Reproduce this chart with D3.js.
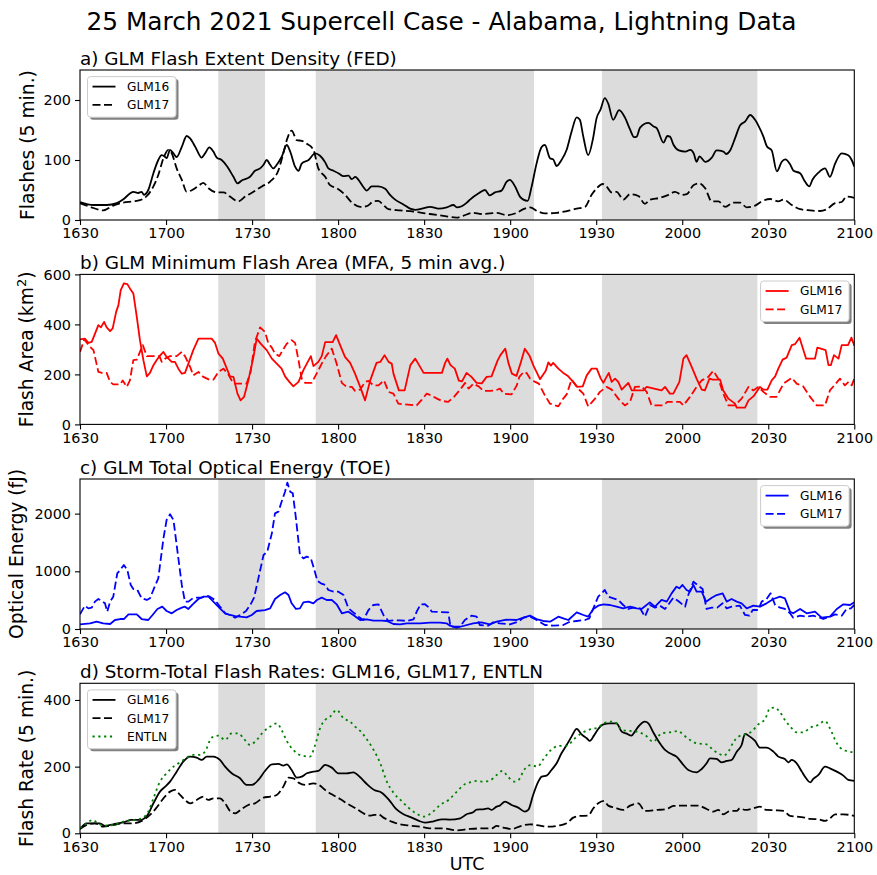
<!DOCTYPE html>
<html><head><meta charset="utf-8">
<script src="https://cdn.jsdelivr.net/npm/d3@7"></script>
<style>body{margin:0;background:#fff}</style>
</head><body>
<svg id="chart" width="877" height="875"></svg>
<script>
// ---------------- DATA (time = minutes after 16:30 UTC) ----------------
const suptitle = "25 March 2021 Supercell Case - Alabama, Lightning Data";
const xTickMinutes = [0,30,60,90,120,150,180,210,240,270];
const xTickLabels = ["1630","1700","1730","1800","1830","1900","1930","2000","2030","2100"];
const shadeSpans = [[48.2,64.5],[82.2,158.3],[182,236.2]];

// a) Flash Extent Density
const fedG16 = [[0,30],[4.7,25],[9.3,25],[12.8,28],[15,34],[17.4,44],[18.6,47],[20.3,45],[21.5,47],[22.3,42],[23.8,50],[25.6,78],[27.3,100],[28.5,108],[29.7,105],[30.2,103],[31.4,117],[32.6,111],[33.7,105],[35.5,122],[37.2,140],[38.4,136],[39.5,128],[40.7,117],[42.4,104],[43.6,111],[45.1,121],[46.5,114],[47.7,104],[49.4,100],[51.2,90],[53.5,72],[54.9,61],[56.4,66],[59.3,72],[61,82],[62.8,86],[64,92],[65.1,100],[66.3,92],[67.4,86],[68.6,92],[70.3,105],[72.1,125],[73.3,114],[75,89],[76.2,82],[77.3,94],[79.7,100],[82,111],[83.7,107],[85.5,96],[86.6,86],[88.4,82],[90.1,78],[91.9,73],[93.6,74],[94.8,68],[96,72],[97.1,67],[98.8,55],[100,49],[101.7,56],[104,56],[106.4,52],[108.1,42],[109.9,34],[112.8,26],[115.1,19],[117,17],[119.2,19],[122.1,22],[125,19],[127.9,21],[130.2,25],[131.4,21],[133.1,23],[134.9,29],[136,34],[138.9,44],[141.2,50],[142.9,41],[144.7,46],[147,49],[148.8,64],[149.9,67],[151.7,56],[153.4,39],[154.6,34],[156.1,32],[157.5,56],[159.2,94],[161,122],[162.1,125],[163.9,103],[165,101],[166.2,90],[167.9,100],[169.7,117],[171.4,147],[173.2,171],[174.3,167],[175.5,139],[177.2,108],[178.9,136],[180.1,169],[181.5,184],[183,203],[184.2,194],[185.9,167],[188,183],[190,171],[191.8,151],[193.2,138],[194.1,139],[195.3,154],[198.2,162],[200,156],[201.1,153],[203.5,129],[204.8,140],[205.7,139],[207,125],[208.8,116],[211.1,114],[212.8,117],[214,111],[215,97],[216,106],[218,97],[220.3,104],[222,116],[224.4,114],[225.3,110],[226.7,116],[228.4,136],[230.2,158],[231.9,164],[233.7,175],[235.4,167],[236.6,157],[238.3,139],[239.5,123],[241.2,116],[243,81],[244.7,97],[245.9,101],[247.6,93],[248.8,82],[251.1,78],[252.8,64],[254.3,56],[255.4,67],[257.5,79],[259.8,86],[261.5,72],[263.3,94],[265.6,111],[267.9,108],[269.1,100],[270,89]];
const fedG17 = [[0,28],[3.5,22],[8.1,16],[11.6,24],[15.1,29],[18.6,31],[20.9,33],[23.3,40],[25.6,56],[27.3,75],[29.1,103],[30.8,117],[32,111],[33.7,86],[35.5,67],[37.2,47],[39.5,51],[41.6,58],[43,62],[44.8,53],[47.7,46],[50,46],[52.3,39],[55.2,31],[57.6,39],[60.5,47],[63.4,56],[66.3,64],[69.2,83],[70.9,111],[72.3,136],[73.8,149],[75.6,133],[77.3,132],[79.1,127],[81.4,117],[83.1,86],[85.5,72],[87.2,58],[89.5,53],[92.4,42],[94.8,29],[97.7,22],[100,23],[102.3,31],[104,32],[105.8,25],[107.6,18],[111.6,16],[116.3,14],[119.2,12],[122,10],[126.7,7],[131.3,4],[133.6,7],[137.1,12],[140,10],[142.9,11],[145.3,12],[148.8,8],[152.3,12],[154.6,18],[156.9,21],[159.8,14],[162.1,11],[166.2,12],[170.8,16],[173.2,19],[176.1,22],[178.4,42],[180.2,53],[182.3,60],[183.6,56],[185.4,46],[187.1,47],[189.5,34],[191.8,43],[194.7,40],[197,27],[198.8,34],[202.3,37],[205.2,42],[207.5,47],[209.8,42],[211.6,43],[213.9,58],[216,61],[218,53],[220.3,31],[222.6,31],[225,22],[227.8,29],[230.2,29],[232.5,21],[235.4,24],[237.7,31],[240.7,35],[243.5,31],[245.3,34],[248.2,25],[251.1,18],[254.6,16],[258.1,15],[260.4,18],[263.3,28],[265.6,30],[267.3,39],[270,37]];

// b) Minimum Flash Area
const mfaG16 = [[0,340],[1.7,343],[2.9,326],[4.1,330],[6.4,397],[7.3,388],[8.4,410],[9.3,388],[10.5,373],[11.4,384],[12.6,450],[13.4,477],[14.2,537],[15.3,564],[16.5,561],[17.4,544],[18.6,524],[19.8,430],[20.9,337],[22.1,257],[23.3,192],[24.4,206],[25.6,237],[26.7,257],[27.7,273],[29.1,290],[30.2,270],[32,250],[33.1,250],[34.3,223],[35.5,203],[36.6,206],[37.8,243],[39.5,297],[41.3,343],[43,343],[45.9,343],[47.1,326],[48.3,283],[49.8,263],[51.2,223],[52.3,192],[53.5,190],[54.9,123],[56,96],[57.2,110],[58.7,176],[60.5,270],[61.6,343],[63,323],[65.1,297],[66.9,263],[68.6,243],[70.3,223],[71.5,192],[73,170],[74.4,152],[76.2,170],[77.9,217],[79.1,243],[80.5,273],[81.4,233],[83.1,250],[84.3,273],[85.5,329],[88.1,329],[89.3,357],[90.7,317],[92.4,270],[94.2,246],[95.9,203],[97.7,150],[99.4,96],[101.2,176],[103.4,246],[104.7,250],[106.2,277],[107.6,250],[108.7,243],[109.3,203],[111.2,136],[113.2,136],[115.2,237],[116.9,263],[118.6,230],[119.8,206],[126.2,206],[127.3,245],[128.1,263],[129.2,237],[130.7,223],[132.1,175],[133.2,172],[134.8,206],[136.5,190],[138.3,166],[140.1,164],[141.8,190],[143.5,192],[145.6,255],[146.6,277],[148.3,303],[149.4,245],[150.6,203],[152.2,194],[153.5,240],[155.1,303],[156.7,276],[158.2,233],[160.4,181],[162.4,215],[163.3,248],[164.2,235],[165,246],[166.8,223],[168.5,206],[169.9,196],[172,170],[173.4,150],[175.3,152],[176.7,196],[178.4,223],[180.2,223],[181.6,183],[182.5,166],[183.6,190],[184.4,206],[185.4,170],[186.6,183],[187.7,170],[188.9,139],[190,152],[191.2,166],[192.4,136],[196.4,136],[197.6,150],[202.8,136],[204,150],[205.7,123],[206.9,123],[209,170],[210.4,263],[211.5,277],[213.3,230],[215,183],[216.8,139],[217.9,136],[219.5,183],[220.6,179],[223.2,179],[224.3,136],[226.1,103],[228.4,83],[229,67],[231.9,67],[233.1,96],[234.8,112],[237.1,150],[238.3,139],[239.7,139],[241.2,176],[242.4,192],[243.5,223],[245,259],[246.4,267],[248.2,317],[249.3,321],[250.9,347],[253.2,263],[256.3,263],[257.1,307],[258.3,303],[260,297],[261,237],[261.8,237],[262.9,277],[264.5,263],[265.6,317],[267.8,317],[269,347],[270,315]];
const mfaG17 = [[0,290],[1.5,340],[3.5,310],[4.7,297],[6.4,210],[7.6,206],[9.3,206],[10.5,170],[11.6,160],[14,160],[14.9,176],[16.3,150],[17.4,176],[18.6,257],[19.8,259],[20.9,290],[21.9,317],[23.3,273],[26.2,273],[27.7,273],[28.5,250],[29.7,263],[31.4,273],[33.7,273],[35.5,290],[36.6,273],[38.4,230],[39.5,196],[41.3,210],[43,190],[45.1,179],[46.5,179],[48.3,210],[50,223],[51.7,200],[53.5,163],[58.1,163],[59.5,210],[61,330],[62.8,388],[64.5,370],[65.7,323],[66.9,307],[68,283],[69.5,273],[70.7,297],[72.1,323],[73.8,337],[75,326],[76.2,257],[77.3,183],[78.5,166],[80.8,166],[83.1,216],[84.3,243],[85.8,273],[87.8,303],[89.5,243],[91.3,166],[93,150],[94.8,150],[95.9,134],[97.7,139],[99.4,170],[100.6,174],[102.3,156],[104.1,156],[106,176],[107.6,130],[109.3,123],[111,83],[113.4,80],[117.4,76],[119.2,99],[120.9,123],[122.5,116],[124.5,103],[126.1,94],[128.4,90],[130.4,110],[132.6,140],[134.3,166],[135.5,143],[137.2,163],[139,152],[140.7,134],[143,134],[144.8,136],[146.5,143],[147.7,123],[150.5,120],[152.3,156],[153.2,190],[154.7,210],[155.8,205],[157,183],[158.7,170],[160,163],[162.1,116],[163.9,83],[166.8,72],[168.3,100],[169.7,120],[171.4,179],[173.7,143],[175.5,123],[177.2,72],[179.6,103],[181.3,130],[183.6,150],[185.4,139],[187.7,103],[190,76],[191.8,90],[193.5,150],[195.8,152],[197.6,130],[199.3,76],[203.4,76],[204.8,90],[209.2,90],[210.4,76],[212.7,110],[215,150],[216.8,176],[219.1,190],[220.8,214],[222.6,183],[224.3,123],[226.1,76],[228.4,76],[230.7,103],[233.1,150],[234.8,136],[236.5,150],[238.3,130],[240.6,110],[242.9,110],[245.3,163],[248.2,186],[249.9,163],[252.2,152],[254.6,110],[256.9,76],[259.8,76],[261.5,136],[263.3,160],[265,183],[266.7,156],[268,170],[269.1,156],[270,183]];

// c) Total Optical Energy
const toeG16 = [[0,81],[3.5,98],[5.8,127],[8.1,98],[10.5,87],[12.2,156],[14,173],[15.3,173],[16.9,254],[19.8,254],[21.5,173],[23.8,156],[25.3,243],[27,347],[28.7,387],[30.2,312],[32,272],[33.7,329],[35.5,370],[36.6,387],[37.8,347],[39.3,428],[41.3,520],[43,560],[44.8,560],[46.5,474],[48.8,358],[50.6,272],[52.3,243],[54.1,225],[55.8,214],[58.1,202],[59.9,243],[61.6,312],[64.5,329],[66.3,358],[68,520],[69.8,589],[71.5,636],[72.7,589],[73.8,445],[75.3,347],[76.7,358],[77.9,462],[79.7,474],[81.4,445],[82.6,503],[84.3,543],[86,503],[87.8,503],[89.5,428],[91.3,272],[93.6,300],[95.3,243],[97.7,156],[100,168],[102.3,144],[105.2,144],[107,139],[109.3,87],[111.6,81],[114,98],[118.6,98],[122.1,110],[125.6,110],[127.8,98],[129,58],[131.3,23],[133.6,52],[137.1,98],[140,116],[142.9,81],[145.3,127],[148.7,162],[152.2,156],[154.6,196],[156.9,231],[159.2,173],[161.5,139],[163.9,127],[166.8,214],[168.5,185],[170.3,156],[173.2,289],[175.5,243],[177.2,214],[179,347],[180.7,404],[182.5,428],[184.8,416],[187.1,387],[189.4,358],[191.8,387],[194.1,358],[195.8,347],[198.7,462],[200.5,387],[202.8,503],[204.6,474],[206.3,618],[208,734],[209,705],[210.1,763],[211.5,676],[212.7,647],[213.9,763],[215,647],[216.8,647],[218.3,474],[220.3,543],[222,589],[224.1,618],[225.5,474],[227.2,520],[229,474],[230.7,445],[232.5,358],[234.8,404],[237.1,387],[239.4,445],[241.8,520],[244.1,560],[245.8,532],[247.6,300],[248.7,272],[251.1,347],[253.4,272],[256.3,300],[258.6,196],[261.5,214],[263.9,347],[266.2,428],[268.5,416],[270,462]];
const toeG17 = [[0,254],[1.7,404],[2.9,358],[4.1,370],[5.2,474],[6.4,520],[7.9,474],[8.7,445],[9.5,300],[10.5,474],[11.6,560],[13,965],[14,1023],[15.3,1109],[16.5,1023],[17.7,763],[18.6,693],[20,676],[21.5,532],[23.3,503],[24.4,532],[25.8,705],[27.3,878],[29.1,1572],[30.2,1889],[31.4,1988],[32.6,1889],[34,1340],[35.5,763],[36.6,474],[37.8,474],[39.3,532],[40.7,543],[42.4,543],[44,578],[45.3,560],[47.1,503],[48.8,387],[50.6,272],[52.3,243],[54.1,196],[55.8,243],[57.9,312],[59.5,428],[60.7,543],[62.2,878],[64,1283],[65.3,1340],[66.9,1658],[68,2005],[69.2,2034],[70.3,2207],[71.5,2380],[72.3,2537],[73.3,2380],[74.2,2352],[75.3,1918],[76.7,1283],[77.9,1225],[79.1,1254],[80.5,1225],[81.4,1080],[82.8,832],[84,792],[85.5,763],[86.6,676],[88.4,647],[90.1,647],[91.9,589],[93.6,358],[95.3,289],[97.1,214],[98.8,156],[100.6,329],[102.3,416],[104.1,428],[105.8,243],[107.6,139],[109.3,150],[111.6,150],[114,140],[116.3,165],[117.4,300],[118.8,428],[120.3,430],[121.5,380],[122.7,300],[128.4,289],[129.2,40],[132.5,40],[134.2,156],[136.5,231],[138.3,214],[139.4,69],[142.3,58],[144.1,116],[146.4,98],[149.9,81],[152.8,127],[154.6,196],[156.9,214],[159.2,156],[162.1,69],[165,58],[168.5,69],[170.8,127],[173.2,139],[176.1,156],[177.6,185],[179,358],[180.7,560],[183,676],[184.2,560],[186,532],[187.7,503],[189.4,416],[191.2,347],[192.9,370],[195.3,358],[197,214],[198.7,416],[200.5,370],[202.2,404],[204,347],[205.5,445],[206.9,543],[208.6,485],[211,387],[212.1,589],[213.9,820],[215.6,751],[217.1,693],[218.5,347],[220.3,370],[222.2,370],[224.1,445],[225.5,358],[227.2,387],[230.1,404],[231.9,243],[233.4,231],[234.6,329],[236.5,329],[237.7,474],[239.4,520],[240.8,618],[242.4,416],[244.1,370],[245.8,347],[247.6,272],[248.7,196],[251.1,231],[253.4,214],[255.7,231],[258,196],[259.2,173],[261.5,214],[263.3,254],[265.6,231],[267.3,347],[268.8,358],[270,416]];

// d) Storm-total flash rates
const rateG16 = [[0,13],[2.3,30],[4.7,30],[7,30],[8.7,22],[11.6,27],[15.1,33],[18,40],[20.9,40],[23.3,52],[25.6,90],[27.9,125],[29.7,140],[31.4,155],[33.7,185],[36,215],[38.4,230],[40.7,227],[42.4,220],[44.2,230],[46.5,230],[48.8,220],[50.6,200],[52.9,180],[55.8,165],[58.1,145],[59.9,145],[62.2,160],[64.5,187],[66.9,207],[69.2,208],[70.9,203],[72.1,207],[73.8,190],[75.6,167],[77.3,170],[79.1,180],[81.4,185],[83.1,187],[85.5,205],[87.8,197],[90.1,180],[93,180],[95.3,183],[97.7,168],[100,148],[102.6,130],[105.2,122],[107.6,102],[110.2,73],[112.8,57],[115.7,47],[118,38],[120.3,32],[123.3,36],[126.2,42],[129,41],[132.6,45],[134.8,57],[137.1,63],[138.3,71],[140.6,72],[142.3,75],[143.5,70],[145.3,80],[146.4,83],[148.2,95],[150.5,85],[152.8,77],[155.1,65],[156.3,70],[158,115],[159.8,155],[161,170],[162.7,173],[164.4,190],[166.2,210],[167.9,240],[169.7,265],[171.4,290],[173.2,313],[174.9,297],[176.7,285],[177.8,277],[179.2,293],[180.7,313],[182.5,327],[184.8,330],[187.1,330],[188.9,305],[190.6,299],[192.3,293],[193.5,305],[194.7,320],[197,335],[198.2,330],[199.9,303],[202.2,270],[204,250],[205.7,240],[208,230],[210.4,205],[212.1,190],[215,183],[216.8,193],[218.5,210],[219.7,225],[222,223],[223.7,213],[225.5,217],[227.2,220],[229,245],[230.7,265],[231.9,298],[233.6,290],[235.4,277],[237.1,257],[239.4,257],[241.8,245],[243.5,230],[245.8,223],[247,213],[248.2,220],[249.9,210],[251.7,185],[253.2,165],[254.6,153],[255.7,163],[257.5,175],[259.8,200],[261.5,195],[263.9,185],[266.2,173],[267.9,160],[270,157]];
const rateG17 = [[0,13],[2.3,25],[5.2,30],[8.1,20],[11.6,25],[15.1,30],[18.6,30],[22.1,40],[24.4,55],[26.7,77],[29.1,105],[31.4,125],[33.1,130],[34.9,115],[36.6,100],[38.4,90],[40.7,100],[43,110],[44.8,100],[46.5,105],[48.8,105],[50.6,90],[52.3,67],[54.1,60],[56.4,73],[58.7,85],[61,90],[64,107],[66.3,110],[68.6,115],[70.9,140],[72.7,167],[74.4,165],[76.2,152],[78.5,145],[81.4,150],[83.7,143],[85.5,130],[87.8,117],[90.7,103],[93.6,87],[96.5,73],[98.8,60],[101.2,53],[104.1,57],[105.8,47],[108.7,35],[111.6,27],[115.1,23],[118.6,20],[122.1,15],[126.7,15],[131.3,9],[136,13],[140.6,15],[143.5,15],[145.3,22],[147.6,17],[150.5,13],[153.4,21],[156.9,27],[160.4,23],[163.3,20],[166.8,23],[169.7,30],[172,47],[174.3,52],[177.2,53],[179,75],[180.7,90],[182.7,97],[184.2,83],[186.5,77],[189.4,70],[191.8,83],[194.7,90],[197,67],[201.1,70],[204.6,73],[206.9,82],[209.8,83],[212.7,83],[215.6,83],[218.5,73],[220.8,65],[222.6,70],[224.3,57],[226.7,67],[229,67],[230.1,75],[231.9,70],[234.8,75],[237.1,80],[239.4,70],[242.9,69],[245.3,67],[247.6,52],[249.9,50],[252.2,48],[254.6,43],[257.5,42],[259.8,37],[261.5,45],[263.3,57],[266.2,57],[270,52]];
const rateENTLN = [[0,15],[2.3,30],[4.4,40],[5.8,33],[8.1,23],[11.6,25],[15.1,35],[18.6,40],[21.5,45],[23.8,65],[25.6,105],[27.9,155],[30.2,180],[32.6,200],[34.9,213],[37.2,227],[39.5,235],[41.9,235],[43.6,245],[45.9,287],[48.3,293],[50.6,280],[52.9,300],[55.2,300],[57,285],[59.3,265],[61.6,280],[64,305],[66.3,320],[68.6,330],[70.3,310],[72.1,277],[74.4,250],[76.7,235],[80.2,230],[82,265],[83.7,315],[85.5,340],[87.2,350],[89.5,370],[91.9,345],[94.2,335],[95.9,320],[97.7,307],[100,282],[102.4,250],[104.7,210],[107,155],[109.3,122],[112.1,97],[114.8,75],[117.2,60],[119.8,50],[122.7,62],[125.6,85],[128.5,100],[131.4,125],[134.3,148],[136,153],[138.3,157],[140.4,155],[142.9,158],[145.3,175],[147.3,187],[149.4,168],[151.5,155],[152.9,160],[155,192],[157.3,205],[159.5,200],[161.6,222],[164.2,250],[166.9,262],[169.7,263],[172.6,285],[175.5,303],[178.4,313],[180.7,317],[182.5,330],[185.4,335],[187.1,330],[188.9,310],[191.8,307],[194.1,305],[197,295],[199.9,275],[202.8,300],[205.7,303],[208.6,307],[210.4,295],[212.7,280],[215,270],[218.5,267],[220.8,250],[223.2,237],[224.3,233],[226.1,245],[227.8,273],[229.6,290],[231.9,297],[234.2,305],[236.5,327],[238.9,343],[240.6,375],[242.3,377],[244.1,363],[245.8,340],[248.2,315],[249.9,303],[252.2,303],[254.6,317],[256.9,323],[259.8,337],[261.5,315],[263.9,270],[266.2,250],[270,243]];

// ---------------- DRAWING ----------------
const FONT = "'DejaVu Sans', sans-serif";
const svg = d3.select("#chart");
const left = 80, right = 854.3, ph = 150;
const tops = [70, 274.4, 479, 683.3];
const x = d3.scaleLinear().domain([0, 270]).range([left, right]);
const DASH = "8,3.5", DOT = "2.2,3.6";

const panels = [
  {title:"a) GLM Flash Extent Density (FED)", ylabel:["Flashes (5 min.)"], ylabX:34, ymax:250, yticks:[0,100,200],
   curve:d3.curveMonotoneX, legend:"ul",
   series:[{name:"GLM16",data:fedG16,color:"#000000",dash:null},{name:"GLM17",data:fedG17,color:"#000000",dash:DASH}]},
  {title:"b) GLM Minimum Flash Area (MFA, 5 min avg.)", ylabel:["Flash Area (km","2",")"], ylabX:33, ymax:600, yticks:[0,200,400,600],
   curve:d3.curveLinear, legend:"ur",
   series:[{name:"GLM16",data:mfaG16,color:"#ff0000",dash:null},{name:"GLM17",data:mfaG17,color:"#ff0000",dash:DASH}]},
  {title:"c) GLM Total Optical Energy (TOE)", ylabel:["Optical Energy (fJ)"], ylabX:23, ymax:2600, yticks:[0,1000,2000],
   curve:d3.curveLinear, legend:"ur",
   series:[{name:"GLM16",data:toeG16,color:"#0000ff",dash:null},{name:"GLM17",data:toeG17,color:"#0000ff",dash:DASH}]},
  {title:"d) Storm-Total Flash Rates: GLM16, GLM17, ENTLN", ylabel:["Flash Rate (5 min.)"], ylabX:33, ymax:450, yticks:[0,200,400],
   curve:d3.curveMonotoneX, legend:"ul",
   series:[{name:"GLM16",data:rateG16,color:"#000000",dash:null},{name:"GLM17",data:rateG17,color:"#000000",dash:DASH},{name:"ENTLN",data:rateENTLN,color:"#008000",dash:DOT}]}
];

svg.append("text").attr("x", 441.5).attr("y", 29.5).attr("text-anchor", "middle")
  .attr("font-family", FONT).attr("font-size", 24.8).attr("fill", "#000").text(suptitle);

const defs = svg.append("defs");

panels.forEach((p, i) => {
  const top = tops[i], bottom = top + ph;
  const y = d3.scaleLinear().domain([0, p.ymax]).range([bottom, top]);
  const g = svg.append("g");

  defs.append("clipPath").attr("id", "clip" + i).append("rect")
    .attr("x", left).attr("y", top).attr("width", right - left).attr("height", ph);
  const pg = g.append("g").attr("clip-path", `url(#clip${i})`);

  pg.selectAll("rect.shade").data(shadeSpans).join("rect").attr("class", "shade")
    .attr("x", d => x(d[0])).attr("width", d => x(d[1]) - x(d[0]))
    .attr("y", top).attr("height", ph).attr("fill", "#dcdcdc");

  p.series.forEach(s => {
    const line = d3.line().x(d => x(d[0])).y(d => y(d[1])).curve(p.curve);
    pg.append("path").datum(s.data).attr("d", line).attr("fill", "none")
      .attr("stroke", s.color).attr("stroke-width", 1.8)
      .attr("stroke-dasharray", s.dash).attr("stroke-linejoin", "round");
  });

  // axes
  const xa = g.append("g").attr("transform", `translate(0,${bottom})`)
    .call(d3.axisBottom(x).tickValues(xTickMinutes).tickFormat((d, j) => xTickLabels[j])
      .tickSize(5).tickSizeOuter(0).tickPadding(3));
  const ya = g.append("g").attr("transform", `translate(${left},0)`)
    .call(d3.axisLeft(y).tickValues(p.yticks).tickFormat(d3.format("d"))
      .tickSize(5).tickSizeOuter(0).tickPadding(4));
  [xa, ya].forEach(a => {
    a.select(".domain").remove();
    a.selectAll("line").attr("stroke", "#000").attr("stroke-width", 1.1);
    a.selectAll("text").attr("font-family", FONT).attr("font-size", 14.4).attr("fill", "#000");
  });

  // frame
  g.append("rect").attr("x", left).attr("y", top).attr("width", right - left).attr("height", ph)
    .attr("fill", "none").attr("stroke", "#000").attr("stroke-width", 1.1);

  // title
  g.append("text").attr("x", left).attr("y", top - 5.5).attr("font-family", FONT)
    .attr("font-size", 18.4).attr("fill", "#000").text(p.title);

  // y label
  const yl = g.append("text").attr("font-family", FONT).attr("font-size", 18.7).attr("fill", "#000")
    .attr("text-anchor", "middle")
    .attr("transform", `translate(${p.ylabX},${(top + bottom) / 2}) rotate(-90)`);
  if (p.ylabel.length === 1) yl.text(p.ylabel[0]);
  else {
    yl.append("tspan").text(p.ylabel[0]);
    yl.append("tspan").attr("dy", -7).attr("font-size", 13).text(p.ylabel[1]);
    yl.append("tspan").attr("dy", 7).text(p.ylabel[2]);
  }

  // legend
  const n = p.series.length;
  const bw = 88.5, bh = 18.3 * n + 4;
  const bx = p.legend === "ul" ? left + 7.5 : right - 5.2 - bw;
  const by = top + 6.6;
  const lg = g.append("g");
  lg.append("rect").attr("x", bx + 2.5).attr("y", by + 2.5).attr("width", bw).attr("height", bh)
    .attr("rx", 3).attr("fill", "#808080");
  lg.append("rect").attr("x", bx).attr("y", by).attr("width", bw).attr("height", bh)
    .attr("rx", 3).attr("fill", "#fff").attr("stroke", "#cccccc").attr("stroke-width", 1);
  p.series.forEach((s, k) => {
    const ly = by + 10 + 18.3 * k;
    lg.append("line").attr("x1", bx + 5).attr("x2", bx + 28).attr("y1", ly).attr("y2", ly)
      .attr("stroke", s.color).attr("stroke-width", 1.8).attr("stroke-dasharray", s.dash);
    lg.append("text").attr("x", bx + 39.5).attr("y", ly + 4.4).attr("font-family", FONT)
      .attr("font-size", 12.2).attr("fill", "#000").text(s.name);
  });
});

svg.append("text").attr("x", (left + right) / 2).attr("y", 870).attr("text-anchor", "middle")
  .attr("font-family", FONT).attr("font-size", 17.5).attr("fill", "#000").text("UTC");
</script>
</body></html>
